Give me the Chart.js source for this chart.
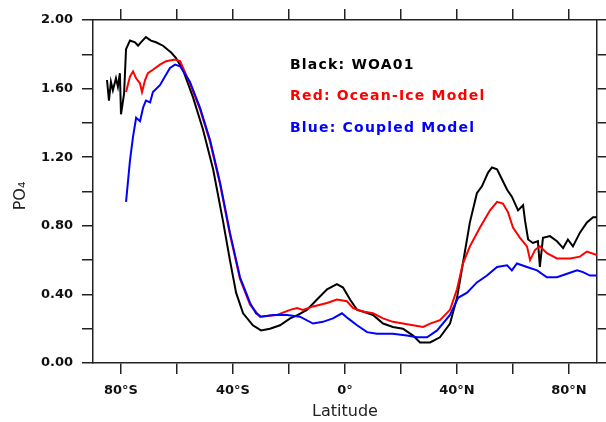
<!DOCTYPE html>
<html>
<head>
<meta charset="utf-8">
<script src="https://cdn.jsdelivr.net/npm/chart.js@4/dist/chart.umd.min.js"></script>
<style>
	body { margin: 0; background: #fff; }
	canvas { display: block; }
</style>
</head>
<body>
<canvas id="chart" width="606" height="422"></canvas>
<script>
// zonal mean surface PO4, observations vs. the two model runs
const woaLat = [-85.0, -84.3, -83.6, -82.9, -81.8, -81.1, -80.4, -80.0, -78.9, -78.2, -76.8, -75.0, -73.9, -72.9, -71.1, -69.3, -67.5, -65.0, -62.1, -60.4, -57.9, -54.3, -50.7, -47.1, -43.6, -41.1, -38.9, -36.4, -32.9, -30.0, -26.8, -23.2, -19.6, -16.8, -13.6, -10.0, -6.4, -2.9, -0.7, 1.8, 4.3, 6.4, 10.0, 13.6, 17.1, 20.7, 24.3, 26.8, 30.4, 33.9, 37.5, 40.0, 42.1, 44.6, 47.1, 48.9, 51.1, 52.5, 54.3, 56.1, 57.9, 59.6, 61.8, 63.6, 64.3, 65.4, 67.1, 68.9, 69.6, 70.7, 73.2, 75.7, 77.9, 79.6, 81.4, 83.9, 86.4, 88.6, 90.0];
const woaPO4 = [1.65, 1.53, 1.64, 1.59, 1.66, 1.61, 1.69, 1.45, 1.57, 1.83, 1.88, 1.87, 1.85, 1.87, 1.90, 1.88, 1.87, 1.85, 1.81, 1.78, 1.71, 1.55, 1.36, 1.13, 0.83, 0.60, 0.41, 0.29, 0.22, 0.19, 0.20, 0.22, 0.26, 0.28, 0.31, 0.37, 0.43, 0.46, 0.44, 0.37, 0.31, 0.30, 0.28, 0.23, 0.21, 0.20, 0.16, 0.12, 0.12, 0.15, 0.23, 0.38, 0.58, 0.82, 0.99, 1.03, 1.11, 1.14, 1.13, 1.07, 1.01, 0.97, 0.89, 0.92, 0.83, 0.72, 0.70, 0.71, 0.56, 0.73, 0.74, 0.71, 0.67, 0.72, 0.68, 0.76, 0.82, 0.85, 0.85];

const oceanIceLat = [-78.2, -76.8, -75.7, -74.6, -73.2, -72.5, -71.4, -70.4, -68.6, -66.1, -63.9, -60.7, -58.9, -55.4, -51.8, -48.2, -44.6, -41.1, -37.5, -33.9, -30.4, -24.3, -19.6, -17.1, -15.0, -11.4, -6.4, -2.9, 0.7, 2.9, 6.4, 10.0, 13.6, 17.1, 20.7, 24.3, 27.9, 30.4, 33.9, 37.5, 40.0, 42.1, 44.6, 48.2, 51.8, 54.3, 56.4, 58.2, 60.0, 62.5, 65.0, 66.1, 67.9, 69.6, 72.1, 75.7, 80.4, 83.9, 86.4, 90.0];
const oceanIcePO4 = [1.58, 1.67, 1.70, 1.66, 1.63, 1.58, 1.65, 1.69, 1.71, 1.74, 1.76, 1.77, 1.76, 1.63, 1.48, 1.29, 1.04, 0.75, 0.49, 0.34, 0.27, 0.28, 0.31, 0.32, 0.31, 0.33, 0.35, 0.37, 0.36, 0.32, 0.30, 0.29, 0.26, 0.24, 0.23, 0.22, 0.21, 0.23, 0.25, 0.31, 0.43, 0.58, 0.68, 0.79, 0.89, 0.94, 0.93, 0.88, 0.79, 0.73, 0.68, 0.60, 0.66, 0.68, 0.64, 0.61, 0.61, 0.62, 0.65, 0.63];

const coupledLat = [-78.2, -76.8, -75.7, -74.6, -73.2, -72.1, -71.1, -69.6, -68.6, -66.1, -64.3, -62.5, -60.7, -58.9, -55.4, -51.8, -48.2, -44.6, -41.1, -37.5, -33.9, -31.8, -30.0, -25.7, -20.7, -16.1, -11.4, -7.9, -4.3, -1.1, 1.1, 4.3, 7.9, 11.4, 17.1, 22.1, 25.7, 29.3, 32.9, 37.5, 40.4, 43.6, 47.1, 50.7, 54.3, 57.9, 59.6, 61.4, 65.0, 68.6, 72.1, 75.7, 79.3, 82.9, 85.0, 87.5, 90.0];
const coupledPO4 = [0.94, 1.18, 1.32, 1.43, 1.41, 1.49, 1.53, 1.52, 1.58, 1.62, 1.67, 1.72, 1.74, 1.73, 1.64, 1.49, 1.30, 1.05, 0.76, 0.50, 0.35, 0.29, 0.27, 0.28, 0.28, 0.27, 0.23, 0.24, 0.26, 0.29, 0.26, 0.22, 0.18, 0.17, 0.17, 0.16, 0.15, 0.15, 0.19, 0.28, 0.38, 0.41, 0.47, 0.51, 0.56, 0.57, 0.54, 0.58, 0.56, 0.54, 0.50, 0.50, 0.52, 0.54, 0.53, 0.51, 0.51];

const latTicks = [-80, -60, -40, -20, 0, 20, 40, 60, 80];
const latLabels = { '-80': '80°S', '-40': '40°S', '0': '0°', '40': '40°N', '80': '80°N' };

const notes = [
	{ text: 'Black: WOA01', color: '#000000' },
	{ text: 'Red: Ocean-Ice Model', color: '#ff0000' },
	{ text: 'Blue: Coupled Model', color: '#0000ff' },
];

function pairs(xs, ys) {
	return xs.map((x, i) => ({ x: x, y: ys[i] }));
}

function latTickList(scale) {
	scale.ticks = latTicks.map((v) => ({ value: v }));
}

const tickFont = { family: 'DejaVu Sans', size: 13, weight: 'bold' };
const axisGrid = { drawOnChartArea: false, drawTicks: true, tickLength: 11, color: '#222', lineWidth: 1.5 };
const axisBorder = { color: '#222', width: 1.5 };

// text block inside the plot and the two axis titles
const textPlugin = {
	id: 'texts',
	afterDraw(chart) {
		const ctx = chart.ctx;
		const area = chart.chartArea;
		ctx.save();
		ctx.textBaseline = 'middle';
		ctx.textAlign = 'left';
		ctx.font = 'bold 14px "DejaVu Sans"';
		ctx.letterSpacing = '1.2px';
		notes.forEach((n, i) => {
			ctx.fillStyle = n.color;
			ctx.fillText(n.text, area.left + 197, area.top + 45 + i * 31.5);
		});
		ctx.letterSpacing = '0px';

		ctx.fillStyle = '#222';
		ctx.font = '16px "DejaVu Sans"';
		ctx.textAlign = 'center';
		ctx.fillText('Latitude', (area.left + area.right) / 2, area.bottom + 49);

		ctx.translate(21, 196);
		ctx.rotate(-Math.PI / 2);
		ctx.fillText('PO₄', 0, 0);
		ctx.restore();
	},
};

const ctx = document.getElementById('chart').getContext('2d');
const myChart = new Chart(ctx, {
	type: 'line',
	data: {
		datasets: [
			{
				label: 'WOA01',
				data: pairs(woaLat, woaPO4),
				borderColor: '#000000',
				borderWidth: 2,
				pointRadius: 0,
				tension: 0,
				order: 3,
			},
			{
				label: 'Ocean-Ice Model',
				data: pairs(oceanIceLat, oceanIcePO4),
				borderColor: '#ff0000',
				borderWidth: 2,
				pointRadius: 0,
				tension: 0,
				order: 2,
			},
			{
				label: 'Coupled Model',
				data: pairs(coupledLat, coupledPO4),
				borderColor: '#0000ff',
				borderWidth: 2,
				pointRadius: 0,
				tension: 0,
				order: 1,
			},
		],
	},
	options: {
		responsive: false,
		animation: false,
		layout: { padding: 0 },
		plugins: {
			legend: { display: false },
			tooltip: { enabled: false },
		},
		scales: {
			x: {
				type: 'linear',
				position: 'bottom',
				min: -90,
				max: 90,
				afterBuildTicks: latTickList,
				afterFit(scale) { scale.height = 59; },
				grid: axisGrid,
				border: axisBorder,
				ticks: {
					font: tickFont,
					color: '#111',
					padding: 9,
					maxRotation: 0,
					autoSkip: false,
					callback: (v) => latLabels[String(v)] || '',
				},
			},
			x2: {
				type: 'linear',
				position: 'top',
				min: -90,
				max: 90,
				afterBuildTicks: latTickList,
				afterFit(scale) { scale.height = 20; },
				grid: axisGrid,
				border: axisBorder,
				ticks: { display: false },
			},
			y: {
				position: 'left',
				min: 0,
				max: 2,
				afterFit(scale) { scale.width = 93; },
				grid: axisGrid,
				border: axisBorder,
				ticks: {
					stepSize: 0.2,
					font: tickFont,
					color: '#111',
					padding: 9,
					autoSkip: false,
					callback: (v) => (Math.round(v * 10) % 4 === 0 ? v.toFixed(2) : ''),
				},
			},
			y2: {
				position: 'right',
				min: 0,
				max: 2,
				afterFit(scale) { scale.width = 9; },
				grid: axisGrid,
				border: axisBorder,
				ticks: { display: false, stepSize: 0.2 },
			},
		},
	},
	plugins: [textPlugin],
});
</script>
</body>
</html>
